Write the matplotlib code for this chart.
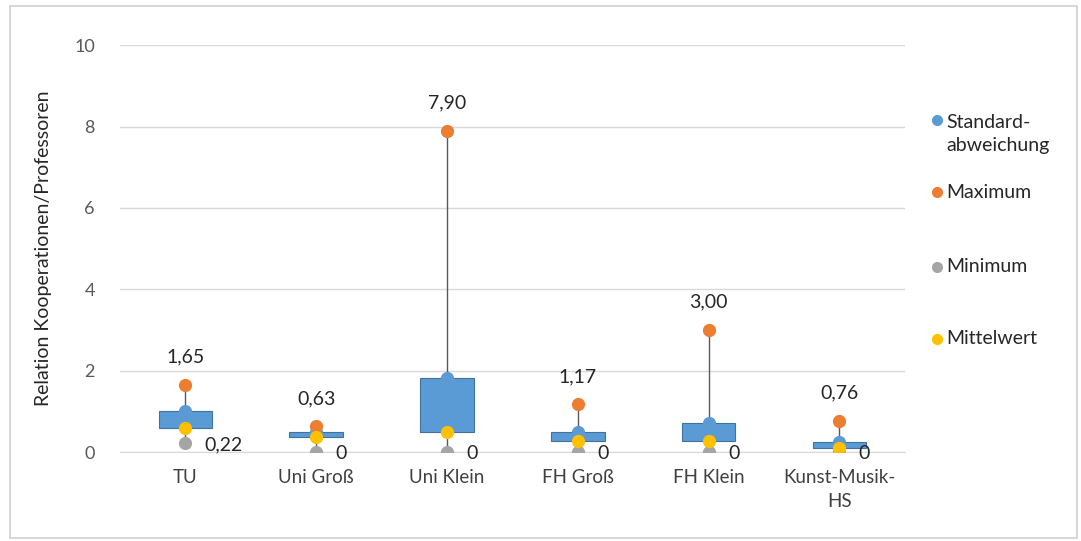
import matplotlib.pyplot as plt
from matplotlib.patches import Rectangle
from matplotlib.lines import Line2D

plt.rcParams['font.family'] = ['Lato', 'DejaVu Sans']

kategorien = ['TU', 'Uni Groß', 'Uni Klein', 'FH Groß', 'FH Klein', 'Kunst-Musik-\nHS']
standardabw = [1.00, 0.48, 1.82, 0.49, 0.71, 0.25]
maximum = [1.65, 0.63, 7.90, 1.17, 3.00, 0.76]
minimum = [0.22, 0.0, 0.0, 0.0, 0.0, 0.0]
mittelwert = [0.60, 0.36, 0.48, 0.27, 0.27, 0.10]

c_blau = '#5B9BD5'
c_orange = '#ED7D31'
c_grau = '#A5A5A5'
c_gelb = '#FFC000'

fig = plt.figure(figsize=(10.81, 5.41), dpi=100)
ax = fig.add_axes([0.111, 0.1645, 0.726, 0.752])

x = range(len(kategorien))
w = 0.41
for i in x:
    # Hoch-Tief-Linie
    ax.plot([i, i], [minimum[i], maximum[i]], color='#595959', lw=1, zorder=2)
    # Balken zwischen Standardabweichung und Mittelwert
    lo = min(standardabw[i], mittelwert[i])
    hi = max(standardabw[i], mittelwert[i])
    ax.add_patch(Rectangle((i - w / 2, lo), w, hi - lo, facecolor=c_blau,
                           edgecolor='#41719C', lw=0.8, zorder=3))

ms = 8.5
ax.plot(x, standardabw, 'o', color=c_blau, ms=ms, zorder=4)
ax.plot(x, maximum, 'o', color=c_orange, ms=ms, zorder=4)
ax.plot(x, minimum, 'o', color=c_grau, ms=ms, zorder=4)
ax.plot(x, mittelwert, 'o', color=c_gelb, ms=ms, zorder=5)

def fmt(v, nullkurz=False):
    if nullkurz and v == 0:
        return '0'
    return f'{v:.2f}'.replace('.', ',')

for i in x:
    ax.annotate(fmt(maximum[i]), (i, maximum[i]), xytext=(0, 20),
                textcoords='offset points', ha='center', va='center',
                fontsize=14, color='#262626')
    ax.annotate(fmt(minimum[i], True), (i, minimum[i]), xytext=(14, -1),
                textcoords='offset points', ha='left', va='center',
                fontsize=14, color='#262626')

ax.set_xlim(-0.5, len(kategorien) - 0.5)
ax.set_ylim(0, 10)
ax.set_yticks([0, 2, 4, 6, 8, 10])
ax.set_xticks(list(x))
ax.set_xticklabels(kategorien, fontsize=13.5, color='#404040', linespacing=1.55)
ax.tick_params(axis='y', length=0, pad=18, labelsize=13, labelcolor='#595959')
ax.tick_params(axis='x', length=0, pad=12)
ax.grid(axis='y', color='#D9D9D9', lw=1)
ax.set_axisbelow(True)
for s in ['top', 'right', 'left']:
    ax.spines[s].set_visible(False)
ax.spines['bottom'].set_color('#D9D9D9')
ax.set_ylabel('Relation Kooperationen/Professoren', fontsize=14, color='#262626',
              labelpad=16)

# Legende rechts
legende = [(c_blau, 'Standard-\nabweichung', 134),
           (c_orange, 'Maximum', 192),
           (c_grau, 'Minimum', 267),
           (c_gelb, 'Mittelwert', 339)]
for farbe, text, ypix in legende:
    yf = 1 - ypix / 541
    if '\n' in text:
        ym = 1 - 120 / 541
    else:
        ym = yf
    fig.add_artist(Line2D([937 / 1081], [ym], marker='o', color=farbe, ms=7,
                          transform=fig.transFigure))
    fig.text(946 / 1081, yf, text, fontsize=14, color='#262626', va='center',
             ha='left', linespacing=1.5)

# Rahmen
fig.add_artist(Rectangle((10 / 1081, 3 / 541), 1067 / 1081, 532 / 541,
                         fill=False, edgecolor='#D0D0D0', lw=1.2,
                         transform=fig.transFigure))

fig.savefig('out.png', dpi=100)
